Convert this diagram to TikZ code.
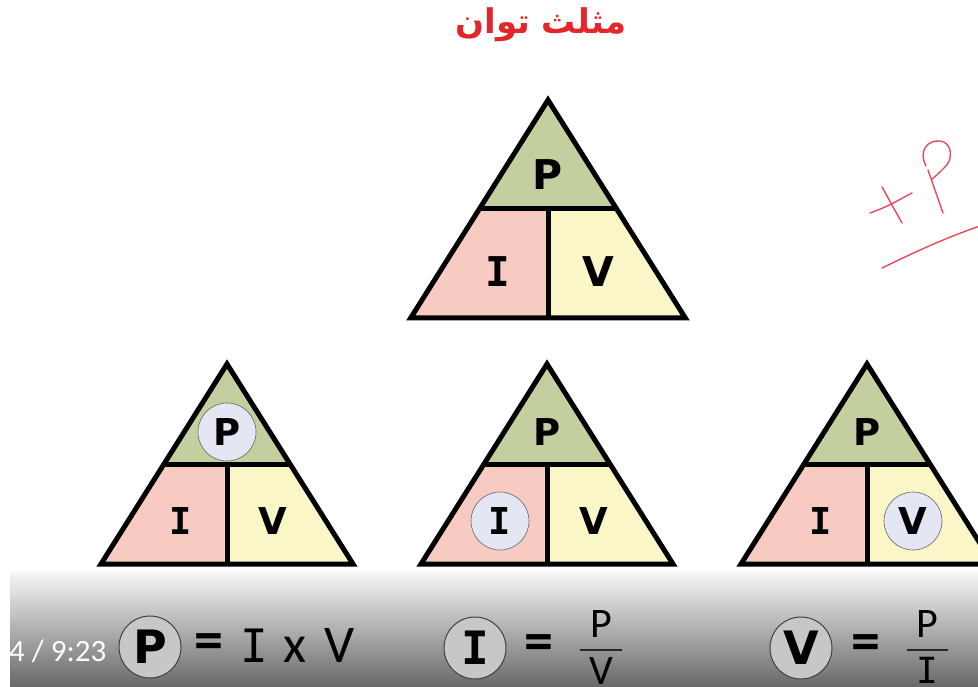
\documentclass[tikz,border=0pt]{standalone}
\usepackage{fontspec}
\setmainfont{DejaVu Sans}
\newfontfamily\monoI{DejaVu Sans Mono}
\newfontfamily\calfont{Carlito}
\newfontfamily\arabicfont[Script=Arabic]{DejaVu Sans}
\TeXXeTstate=1

\definecolor{triGreen}{HTML}{C4CF9F}
\definecolor{triPink}{HTML}{F8CBC2}
\definecolor{triYellow}{HTML}{FAF6C8}
\definecolor{hiFill}{HTML}{E4E7F3}
\definecolor{titleRed}{HTML}{E3262B}
\definecolor{penRed}{HTML}{E54B5A}
\definecolor{barTop}{HTML}{F6F6F6}
\definecolor{barMid}{HTML}{C2C2C2}
\definecolor{barBot}{HTML}{686868}

\tikzset{
    triedge/.style={line width=5pt, line join=miter},
    letter/.style={font=\fontsize{37}{37}\selectfont\bfseries, inner sep=0pt},
    bigletter/.style={font=\fontsize{41}{41}\selectfont\bfseries, inner sep=0pt},
    hilite/.style={circle, draw=black!60, line width=0.6pt, fill=hiFill, minimum size=58pt},
    barcircle/.style={circle, draw=black!75, line width=1pt, fill=black!22, minimum size=62pt, inner sep=0pt, font=\fontsize{46}{46}\selectfont\bfseries},
    formula/.style={font=\calfont\fontsize{53}{53}\selectfont, inner sep=0pt},
    equals/.style={font=\calfont\fontsize{58}{58}\selectfont\bfseries, inner sep=0pt},
    fracpart/.style={font=\calfont\fontsize{42}{42}\selectfont, inner sep=0pt},
    pen/.style={penRed, line width=1.4pt, line cap=round, line join=round}
}

\begin{document}
\begin{tikzpicture}[x=1pt, y=-1pt]
    \useasboundingbox (0,0) rectangle (978,687);
    \clip (0,0) rectangle (978,687);
    \fill[white] (0,0) rectangle (978,687);

    % 标题
    \node[font=\arabicfont\fontsize{34}{34}\selectfont\bfseries, text=titleRed] (title) at (541,25) {\beginR مثلث توان\endR};

    % 上面的三角形
    \begin{scope}[shift={(548,100)}, scale=1.09]
        \fill[triGreen] (0,0) -- (-63,100) -- (63,100) -- cycle;
        \fill[triPink] (-63,100) -- (-126,200) -- (0,200) -- (0,100) -- cycle;
        \fill[triYellow] (0,100) -- (0,200) -- (126,200) -- (63,100) -- cycle;
        \draw[triedge] (0,0) -- (-126,200) -- (126,200) -- cycle;
        \draw[triedge] (-63,100) -- (63,100) (0,100) -- (0,200);
        \node[bigletter] (tp) at (0,68) {P};
        \node[bigletter] (ti) at (-46,157) {\monoI I};
        \node[bigletter] (tv) at (46,157) {V};
    \end{scope}

    % 左：P
    \begin{scope}[shift={(227,364)}]
        \fill[triGreen] (0,0) -- (-63,100) -- (63,100) -- cycle;
        \fill[triPink] (-63,100) -- (-126,200) -- (0,200) -- (0,100) -- cycle;
        \fill[triYellow] (0,100) -- (0,200) -- (126,200) -- (63,100) -- cycle;
        \draw[triedge] (0,0) -- (-126,200) -- (126,200) -- cycle;
        \draw[triedge] (-63,100) -- (63,100) (0,100) -- (0,200);
        \node[letter, hilite] (lp) at (0,68) {P};
        \node[letter] (li) at (-46,157) {\monoI I};
        \node[letter] (lv) at (46,157) {V};
    \end{scope}

    % 中：I
    \begin{scope}[shift={(547,364)}]
        \fill[triGreen] (0,0) -- (-63,100) -- (63,100) -- cycle;
        \fill[triPink] (-63,100) -- (-126,200) -- (0,200) -- (0,100) -- cycle;
        \fill[triYellow] (0,100) -- (0,200) -- (126,200) -- (63,100) -- cycle;
        \draw[triedge] (0,0) -- (-126,200) -- (126,200) -- cycle;
        \draw[triedge] (-63,100) -- (63,100) (0,100) -- (0,200);
        \node[letter] (mp) at (0,68) {P};
        \node[letter, hilite] (mi) at (-47,157) {\monoI I};
        \node[letter] (mv) at (47,157) {V};
    \end{scope}

    % 右：V
    \begin{scope}[shift={(867,364)}]
        \fill[triGreen] (0,0) -- (-63,100) -- (63,100) -- cycle;
        \fill[triPink] (-63,100) -- (-126,200) -- (0,200) -- (0,100) -- cycle;
        \fill[triYellow] (0,100) -- (0,200) -- (126,200) -- (63,100) -- cycle;
        \draw[triedge] (0,0) -- (-126,200) -- (126,200) -- cycle;
        \draw[triedge] (-63,100) -- (63,100) (0,100) -- (0,200);
        \node[letter] (rp) at (0,68) {P};
        \node[letter] (ri) at (-46,157) {\monoI I};
        \node[letter, hilite] (rv) at (46,157) {V};
    \end{scope}

    % 手写
    \draw[pen] (870,213) .. controls (890,206) and (900,199) .. (912,193);
    \draw[pen] (882,187) -- (902,223);
    \draw[pen] (928,170) -- (943,213);
    \draw[pen] (926,166) .. controls (918,150) and (928,140) .. (940,141)
        .. controls (952,142) and (954,160) .. (944,168)
        .. controls (940,172) and (936,176) .. (932,179);
    \draw[pen] (882,268) .. controls (915,252) and (945,238) .. (980,226);

    % 底栏
    \shade[top color=barTop, middle color=barMid, bottom color=barBot] (10,572) rectangle (978,687);
    \node[font=\calfont\fontsize{31}{31}\selectfont, text=white, anchor=west, inner sep=0pt] (clock) at (9,651) {4 / 9:23};

    % P = I x V
    \node[barcircle] (fP) at (150,647) {P};
    \node[equals] (eq1) at (209,647) {=};
    \node[formula, font=\monoI\fontsize{46}{46}\selectfont, anchor=base] (fI1) at (254,662) {I};
    \node[formula, anchor=base] (fx1) at (295,662) {x};
    \node[formula, anchor=base] (fV1) at (340,662) {V};

    % I = P/V
    \node[barcircle] (fI) at (475,648) {\monoI I};
    \node[equals] (eq2) at (539,648) {=};
    \node[fracpart] (num2) at (601,624) {P};
    \node[fracpart, anchor=north] (den2) at (601,657) {V};
    \draw[line width=2.5pt, black!85] (580,650) -- (622,650);

    % V = P/I
    \node[barcircle] (fV) at (801,648) {V};
    \node[equals] (eq3) at (866,648) {=};
    \node[fracpart] (num3) at (927,624) {P};
    \node[fracpart, font=\monoI\fontsize{36}{36}\selectfont, anchor=north] (den3) at (927,657) {I};
    \draw[line width=2.5pt, black!85] (907,650) -- (948,650);
\end{tikzpicture}
\end{document}
